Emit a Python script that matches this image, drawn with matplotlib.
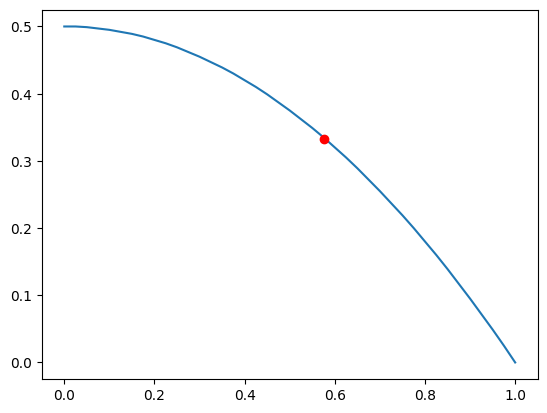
import matplotlib
matplotlib.use("Agg")
import matplotlib.pyplot as plt

# curve values
x_vals = [0.0, 0.025, 0.05, 0.075, 0.1, 0.125, 0.15, 0.175, 0.2, 0.225,
          0.25, 0.275, 0.3, 0.325, 0.35, 0.375, 0.4, 0.425, 0.45, 0.475,
          0.5, 0.525, 0.55, 0.575, 0.6, 0.625, 0.65, 0.675, 0.7, 0.725,
          0.75, 0.775, 0.8, 0.825, 0.85, 0.875, 0.9, 0.925, 0.95, 0.975, 1.0]
y_vals = [0.500, 0.500, 0.499, 0.497, 0.495, 0.492, 0.489, 0.485, 0.480, 0.475,
          0.469, 0.462, 0.455, 0.447, 0.439, 0.430, 0.420, 0.410, 0.399, 0.387,
          0.375, 0.362, 0.349, 0.335, 0.320, 0.305, 0.289, 0.272, 0.255, 0.237,
          0.219, 0.200, 0.180, 0.160, 0.139, 0.117, 0.095, 0.072, 0.049, 0.025, 0.000]

# highlighted point
point_x = [0.577]
point_y = [0.333]

fig, ax = plt.subplots(figsize=(6.4, 4.8))
ax.plot(x_vals, y_vals)
ax.plot(point_x, point_y, "ro")

fig.savefig("out.png", dpi=100, bbox_inches="tight")
